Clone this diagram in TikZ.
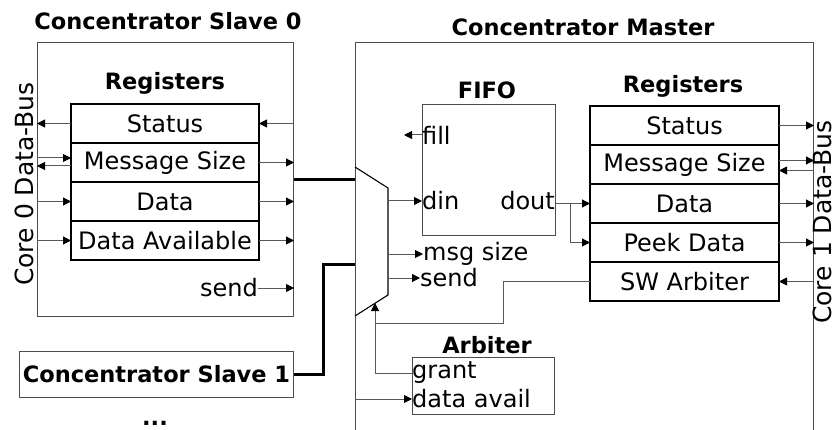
\documentclass[tikz,border=0pt]{standalone}
\usepackage{fontspec}
\setmainfont{DejaVu Sans}
\usetikzlibrary{arrows.meta,positioning}

\tikzset{
  lbl/.style={font=\fontsize{24}{24}\selectfont, inner sep=0pt},
  ttl/.style={font=\bfseries\fontsize{22.5}{22.5}\selectfont, inner sep=0pt},
  bustxt/.style={font=\fontsize{25}{25}\selectfont, inner sep=0pt, rotate=90, anchor=base},
  blk/.style={draw=black!70, line width=1pt, inner sep=0pt},
  reg/.style={draw, line width=1.3pt, minimum width=188pt, minimum height=39pt,
    inner sep=0pt, outer sep=0pt, font=\fontsize{24}{24}\selectfont},
  wire/.style={draw=black!65, line width=1pt},
  sig/.style={wire, -{Triangle[length=8pt,width=8pt,color=black]}},
  bus/.style={line width=3pt},
}

\begin{document}
\begin{tikzpicture}[x=1pt,y=-1pt]
    \useasboundingbox (0,0) rectangle (834,430);
    \clip (0,0) rectangle (834,430);
    \fill[white] (0,0) rectangle (834,430);

    % slave 0
    \node[ttl] (s0t) at (168,21) {Concentrator Slave 0};
    \node[blk, anchor=north west, minimum width=256pt, minimum height=274pt] (s0) at (37,42) {};
    \node[ttl] (s0r) at (165,83) {Registers};
    \node[reg] (s0a) at (165,123.5) {Status};
    \node[reg, below=0pt of s0a] (s0b) {Message Size};
    \node[reg, below=0pt of s0b] (s0c) {Data};
    \node[reg, below=0pt of s0c] (s0d) {Data Available};
    \node[lbl, anchor=east] (snd0) at (258,288) {send};
    \node[bustxt] (c0) at (33,184) {Core 0 Data-Bus};

    \draw[sig] (s0a.west) -- (s0a.west -| s0.west);
    \draw[sig] (s0a.east -| s0.east) -- (s0a.east);
    \draw[sig] ([yshift=4.5pt]s0b.west -| s0.west) -- ([yshift=4.5pt]s0b.west);
    \draw[sig] ([yshift=-3.5pt]s0b.west) -- ([yshift=-3.5pt]s0b.west -| s0.west);
    \draw[sig] (s0b.east) -- (s0b.east -| s0.east);
    \draw[sig] (s0c.west -| s0.west) -- (s0c.west);
    \draw[sig] (s0c.east) -- (s0c.east -| s0.east);
    \draw[sig] (s0d.west -| s0.west) -- (s0d.west);
    \draw[sig] (s0d.east) -- (s0d.east -| s0.east);
    \draw[sig] (snd0.east) -- (snd0.east -| s0.east);

    % slave 1
    \node[blk, ttl, anchor=north west, minimum width=274pt, minimum height=46pt] (s1) at (19,351) {Concentrator Slave 1};
    \node[ttl, anchor=base] (dots) at (155,425) {...};

    % master
    \node[blk, anchor=north west, minimum width=458pt, minimum height=420pt] (ms) at (355,42) {};
    \node[ttl] (mst) at (583,27) {Concentrator Master};

    \coordinate (j1) at (323,264);
    \draw[bus] (s0.east) -- (s0.east -| ms.west);
    \draw[bus] (s1.east) -| (j1) -- (j1 -| ms.west);

    % mux
    \coordinate (mxa) at (355,167);
    \coordinate (mxb) at (388,188);
    \coordinate (mxc) at (388,295);
    \coordinate (mxd) at (355,316);
    \coordinate (mxin) at (375,303);
    \draw[line width=1.1pt] (mxa) -- (mxb) -- (mxc) -- (mxd);

    % fifo
    \node[ttl] (fft) at (487,90) {FIFO};
    \node[blk, anchor=north west, minimum width=133pt, minimum height=131pt] (ff) at (422,104) {};
    \node[lbl, anchor=west] (fil) at (422,135) {fill};
    \coordinate (fille) at (404,135);
    \node[lbl, anchor=west] (din) at (422,201) {din};
    \node[lbl, anchor=east] (dout) at (555,201) {dout};
    \node[lbl, anchor=west] (msz) at (423,254) {msg size};
    \node[lbl, anchor=west] (snd1) at (420,278) {send};

    \draw[sig] (fil.west) -- (fille);
    \draw[sig] (din.west -| mxb) -- (din.west);
    \draw[sig] (msz.west -| mxb) -- (msz.west);
    \draw[sig] (snd1.west -| mxb) -- (snd1.west);

    % master registers
    \node[ttl] (msr) at (683,86) {Registers};
    \node[reg, minimum width=189pt] (m1) at (684.5,125.5) {Status};
    \node[reg, minimum width=189pt, below=0pt of m1] (m2) {Message Size};
    \node[reg, minimum width=189pt, below=0pt of m2] (m3) {Data};
    \node[reg, minimum width=189pt, below=0pt of m3] (m4) {Peek Data};
    \node[reg, minimum width=189pt, below=0pt of m4] (m5) {SW Arbiter};
    \node[bustxt] (c1) at (831,222) {Core 1 Data-Bus};

    \coordinate (br) at (570,201);
    \draw[sig] (m3.west -| ff.east) -- (m3.west);
    \draw[sig] (m3.west -| br) |- (m4.west);
    \draw[sig] (m1.east) -- (m1.east -| ms.east);
    \draw[sig] ([yshift=4pt]m2.east) -- ([yshift=4pt]m2.east -| ms.east);
    \draw[sig] ([yshift=-6pt]m2.east -| ms.east) -- ([yshift=-6pt]m2.east);
    \draw[sig] (m3.east) -- (m3.east -| ms.east);
    \draw[sig] (m4.east) -- (m4.east -| ms.east);
    \draw[sig] (m5.east -| ms.east) -- (m5.east);

    % arbiter
    \node[ttl] (arbt) at (487,345) {Arbiter};
    \node[blk, anchor=north west, minimum width=142pt, minimum height=57pt] (arb) at (412,357) {};
    \node[lbl, anchor=west] (gr) at (412,373) {grant};
    \node[lbl, anchor=west] (dav) at (412,399) {data avail};

    \coordinate (sw1) at (503,323);
    \draw[wire] (m5.west) -| (sw1) -- (sw1 -| mxin);
    \draw[sig] (gr.west) -| (mxin);
    \draw[sig] (dav.west -| ms.west) -- (dav.west);
\end{tikzpicture}
\end{document}
